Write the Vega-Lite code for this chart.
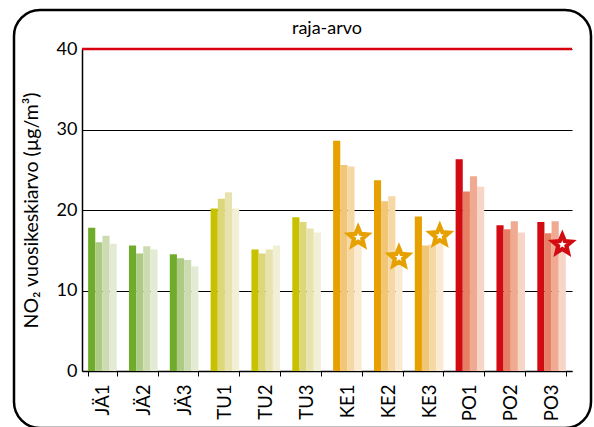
{
  "$schema": "https://vega.github.io/schema/vega-lite/v6.json",
  "width": 490,
  "height": 322,
  "autosize": {"type": "none"},
  "padding": {"left": 82, "top": 49, "right": 22, "bottom": 56},
  "background": "white",
  "config": {
    "font": "Lato",
    "view": {"stroke": null},
    "axis": {"domainColor": "black", "tickColor": "black", "labelColor": "black", "titleColor": "black", "titleFontWeight": "normal"}
  },
  "datasets": {
    "bars": [
      {"site": "JÄ1", "year": "1", "shade": "JÄ-1", "value": 17.8},
      {"site": "JÄ1", "year": "2", "shade": "JÄ-2", "value": 16.0},
      {"site": "JÄ1", "year": "3", "shade": "JÄ-3", "value": 16.8},
      {"site": "JÄ1", "year": "4", "shade": "JÄ-4", "value": 15.8},
      {"site": "JÄ2", "year": "1", "shade": "JÄ-1", "value": 15.6},
      {"site": "JÄ2", "year": "2", "shade": "JÄ-2", "value": 14.6},
      {"site": "JÄ2", "year": "3", "shade": "JÄ-3", "value": 15.5},
      {"site": "JÄ2", "year": "4", "shade": "JÄ-4", "value": 15.1},
      {"site": "JÄ3", "year": "1", "shade": "JÄ-1", "value": 14.5},
      {"site": "JÄ3", "year": "2", "shade": "JÄ-2", "value": 14.0},
      {"site": "JÄ3", "year": "3", "shade": "JÄ-3", "value": 13.8},
      {"site": "JÄ3", "year": "4", "shade": "JÄ-4", "value": 13.0},
      {"site": "TU1", "year": "1", "shade": "TU-1", "value": 20.2},
      {"site": "TU1", "year": "2", "shade": "TU-2", "value": 21.4},
      {"site": "TU1", "year": "3", "shade": "TU-3", "value": 22.2},
      {"site": "TU1", "year": "4", "shade": "TU-4", "value": 20.2},
      {"site": "TU2", "year": "1", "shade": "TU-1", "value": 15.1},
      {"site": "TU2", "year": "2", "shade": "TU-2", "value": 14.6},
      {"site": "TU2", "year": "3", "shade": "TU-3", "value": 15.1},
      {"site": "TU2", "year": "4", "shade": "TU-4", "value": 15.6},
      {"site": "TU3", "year": "1", "shade": "TU-1", "value": 19.1},
      {"site": "TU3", "year": "2", "shade": "TU-2", "value": 18.5},
      {"site": "TU3", "year": "3", "shade": "TU-3", "value": 17.7},
      {"site": "TU3", "year": "4", "shade": "TU-4", "value": 17.2},
      {"site": "KE1", "year": "1", "shade": "KE-1", "value": 28.6},
      {"site": "KE1", "year": "2", "shade": "KE-2", "value": 25.6},
      {"site": "KE1", "year": "3", "shade": "KE-3", "value": 25.4},
      {"site": "KE1", "year": "4", "shade": "KE-4", "value": 16.6},
      {"site": "KE2", "year": "1", "shade": "KE-1", "value": 23.7},
      {"site": "KE2", "year": "2", "shade": "KE-2", "value": 21.1},
      {"site": "KE2", "year": "3", "shade": "KE-3", "value": 21.7},
      {"site": "KE2", "year": "4", "shade": "KE-4", "value": 14.1},
      {"site": "KE3", "year": "1", "shade": "KE-1", "value": 19.2},
      {"site": "KE3", "year": "2", "shade": "KE-2", "value": 15.6},
      {"site": "KE3", "year": "3", "shade": "KE-3", "value": 15.7},
      {"site": "KE3", "year": "4", "shade": "KE-4", "value": 16.8},
      {"site": "PO1", "year": "1", "shade": "PO-1", "value": 26.3},
      {"site": "PO1", "year": "2", "shade": "PO-2", "value": 22.3},
      {"site": "PO1", "year": "3", "shade": "PO-3", "value": 24.2},
      {"site": "PO1", "year": "4", "shade": "PO-4", "value": 22.9},
      {"site": "PO2", "year": "1", "shade": "PO-1", "value": 18.1},
      {"site": "PO2", "year": "2", "shade": "PO-2", "value": 17.6},
      {"site": "PO2", "year": "3", "shade": "PO-3", "value": 18.6},
      {"site": "PO2", "year": "4", "shade": "PO-4", "value": 17.2},
      {"site": "PO3", "year": "1", "shade": "PO-1", "value": 18.5},
      {"site": "PO3", "year": "2", "shade": "PO-2", "value": 17.1},
      {"site": "PO3", "year": "3", "shade": "PO-3", "value": 18.6},
      {"site": "PO3", "year": "4", "shade": "PO-4", "value": 15.7}
    ],
    "stars": [
      {"site": "KE1", "year": "4", "region": "KE", "value": 16.6},
      {"site": "KE2", "year": "4", "region": "KE", "value": 14.1},
      {"site": "KE3", "year": "4", "region": "KE", "value": 16.8},
      {"site": "PO3", "year": "4", "region": "PO", "value": 15.7}
    ],
    "limit": [{"label": "raja-arvo", "value": 40}]
  },
  "layer": [
    {
      "data": {"values": [{}]},
      "mark": {"type": "rect", "fill": null, "stroke": "black", "strokeWidth": 2.5, "cornerRadius": 26},
      "encoding": {
        "x": {"value": -68},
        "x2": {"value": 509},
        "y": {"value": -39},
        "y2": {"value": 379}
      }
    },
    {
      "data": {"name": "bars"},
      "mark": {"type": "bar"},
      "encoding": {
        "x": {
          "field": "site", "type": "nominal", "sort": null,
          "scale": {"domain": ["JÄ1","JÄ2","JÄ3","TU1","TU2","TU3","KE1","KE2","KE3","PO1","PO2","PO3"], "paddingInner": 0.3, "paddingOuter": 0.15},
          "axis": {"title": null, "labelAngle": -90, "labelAlign": "right", "labelBaseline": "middle", "tickBand": "extent", "labelFontSize": 18.5, "labelPadding": 8, "tickSize": 5, "domainWidth": 1.5}
        },
        "xOffset": {"field": "year", "type": "nominal", "scale": {"domain": ["1","2","3","4"], "paddingInner": 0, "paddingOuter": 0}},
        "y": {
          "field": "value", "type": "quantitative",
          "scale": {"domain": [0, 40]},
          "axis": {"values": [0,10,20,30,40], "grid": true, "gridColor": "black", "gridWidth": 1, "gridOpacity": 1, "ticks": false, "labelFontSize": 18, "labelPadding": 5, "domainWidth": 1.5, "title": "NO₂ vuosikeskiarvo (µg/m³)", "titleFontSize": 19.5, "titlePadding": 15}
        },
        "color": {
          "field": "shade", "type": "nominal", "legend": null,
          "scale": {
            "domain": ["JÄ-1","JÄ-2","JÄ-3","JÄ-4","TU-1","TU-2","TU-3","TU-4","KE-1","KE-2","KE-3","KE-4","PO-1","PO-2","PO-3","PO-4"],
            "range": ["#6fac2c","#aecb85","#cddcb0","#e3ebd5","#c8c100","#dcd77a","#e8e3ae","#f1efd5","#e6a100","#f1c677","#f6d8a4","#fbead2","#d20a11","#e67f63","#f0aa92","#f7d5c7"]
          }
        }
      }
    },
    {
      "data": {"name": "limit"},
      "mark": {"type": "rule", "color": "#d7000f", "strokeWidth": 2.5},
      "encoding": {"y": {"field": "value", "type": "quantitative"}}
    },
    {
      "data": {"name": "limit"},
      "mark": {"type": "text", "dy": -20, "fontSize": 18, "color": "black", "baseline": "middle"},
      "encoding": {
        "y": {"field": "value", "type": "quantitative"},
        "text": {"field": "label"}
      }
    },
    {
      "data": {"name": "stars"},
      "mark": {"type": "point", "shape": "M0,-1L0.2645,-0.364L0.951,-0.309L0.428,0.139L0.588,0.809L0,0.45L-0.588,0.809L-0.428,0.139L-0.951,-0.309L-0.2645,-0.364Z", "filled": true, "fill": "white", "strokeWidth": 4.2, "size": 380, "opacity": 1},
      "encoding": {
        "x": {"field": "site", "type": "nominal"},
        "xOffset": {"field": "year", "type": "nominal"},
        "y": {"field": "value", "type": "quantitative"},
        "stroke": {"field": "region", "type": "nominal", "legend": null, "scale": {"domain": ["KE","PO"], "range": ["#e6a100","#d20a11"]}}
      }
    }
  ]
}
